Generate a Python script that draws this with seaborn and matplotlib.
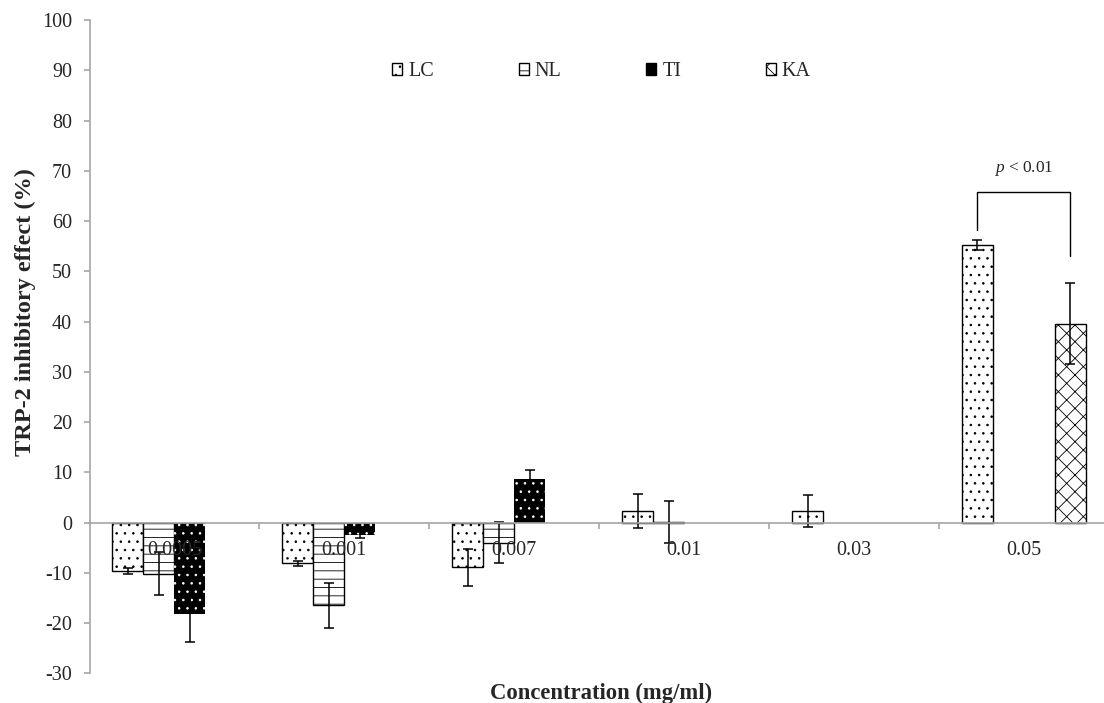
import numpy as np
import pandas as pd
import matplotlib
matplotlib.use("Agg")
import matplotlib.pyplot as plt
import seaborn as sns
from matplotlib.patches import Patch
from matplotlib.ticker import FixedLocator

concentrations = ["0.0005", "0.001", "0.007", "0.01", "0.03", "0.05"]
samples = ["LC", "NL", "TI", "KA"]

lc_mean = [-9.6, -8.1, -8.9, 2.3, 2.3, 55.3]
lc_err = [0.6, 0.5, 3.7, 3.4, 3.1, 1.0]
nl_mean = [-10.2, -16.5, -4.0, 0.1, None, None]
nl_err = [4.3, 4.5, 4.1, 4.1, None, None]
ti_mean = [-18.2, -2.4, 8.6, None, None, None]
ti_err = [5.6, 0.6, 1.8, None, None, None]
ka_mean = [None, None, None, None, None, 39.6]
ka_err = [None, None, None, None, None, 8.0]

y_ticks = list(range(-30, 101, 10))

# significance bracket between LC and KA at 0.05
bracket_top = 65.7
bracket_left_end = 58.3
bracket_right_end = 53.0
p_text_y = 70.5

rows = []
for name, means, errs in [("LC", lc_mean, lc_err), ("NL", nl_mean, nl_err),
                          ("TI", ti_mean, ti_err), ("KA", ka_mean, ka_err)]:
    for c, m, e in zip(concentrations, means, errs):
        if m is not None:
            rows.append({"Concentration": c, "Sample": name, "Effect": m, "Error": e})
df = pd.DataFrame(rows)

sns.set_style("ticks")
plt.rcParams["font.family"] = ["Liberation Serif", "DejaVu Serif"]
plt.rcParams["mathtext.fontset"] = "custom"
plt.rcParams["mathtext.rm"] = "Liberation Serif"
plt.rcParams["mathtext.it"] = "Liberation Serif:italic"
plt.rcParams["axes.unicode_minus"] = False
plt.rcParams["hatch.linewidth"] = 0.6

face = {"LC": "white", "NL": "white", "TI": "black", "KA": "white"}
hatch = {"LC": "..", "NL": "--", "TI": "..", "KA": "xx"}
axis_grey = "#a6a6a6"

fig = plt.figure(figsize=(11.04, 7.03), dpi=100)
ax = fig.add_axes([89.5 / 1104, 1 - 673.3 / 703, 1014.5 / 1104, 653.3 / 703])

group_width = 0.73
sns.barplot(data=df, x="Concentration", y="Effect", hue="Sample",
            order=concentrations, hue_order=samples, palette=face,
            width=group_width, errorbar=None, edgecolor="black",
            linewidth=1.0, saturation=1, legend=False, ax=ax)

bw = group_width / len(samples)
centers = {}
for p in list(ax.patches):
    xc = p.get_x() + p.get_width() / 2
    j = int(round(xc))
    i = int(round((xc - j + group_width / 2 - bw / 2) / bw))
    s = samples[i]
    p.set_hatch(hatch[s])
    if s == "TI":
        p.set_edgecolor("white")
        p.set_linewidth(0)
    row = df[(df.Sample == s) & (df.Concentration == concentrations[j])].iloc[0]
    ax.errorbar(xc, row.Effect, yerr=row.Error, fmt="none", ecolor="black",
                elinewidth=1.1, capsize=3.3, capthick=1.1)
    centers[(s, j)] = xc

x_lc = centers[("LC", 5)]
x_ka = centers[("KA", 5)]
ax.plot([x_lc, x_lc, x_ka, x_ka],
        [bracket_left_end, bracket_top, bracket_top, bracket_right_end],
        color="black", lw=1.0)
ax.text((x_lc + x_ka) / 2, p_text_y, r"$p$ < 0.01", ha="center", va="center",
        fontsize=12.5)

ax.set_axisbelow(False)
sns.despine(ax=ax)
ax.spines["bottom"].set_position(("data", 0))
for side in ["left", "bottom"]:
    ax.spines[side].set_color(axis_grey)
    ax.spines[side].set_linewidth(1.2)

ax.set_ylim(-30, 100)
ax.set_yticks(y_ticks)
ax.set_xlim(-0.5, -0.5 + 1014.5 / 169.9)
ax.tick_params(axis="y", direction="out", length=4.5, width=1.2,
               color=axis_grey, labelsize=14.5, pad=8)
ax.tick_params(axis="x", which="major", length=0, labelsize=14.5, pad=13)
ax.xaxis.set_minor_locator(FixedLocator([0.5, 1.5, 2.5, 3.5, 4.5]))
ax.tick_params(axis="x", which="minor", direction="out", length=4, width=1.2,
               color=axis_grey)

ax.set_ylabel("TRP-2 inhibitory effect (%)", fontsize=17.5, fontweight="bold")
ax.yaxis.set_label_coords(-0.053, 0.553)
ax.set_xlabel("Concentration (mg/ml)", fontsize=16.3, fontweight="bold")
ax.xaxis.set_label_coords(0.504, -0.014)

handles = [Patch(facecolor=face[s], edgecolor="black", hatch=hatch[s], label=s)
           for s in samples]
handles[2] = Patch(facecolor="black", edgecolor="black", label="TI")
ax.legend(handles=handles, loc="center", bbox_to_anchor=(0.5047, 0.921),
          ncol=4, frameon=False, fontsize=14.5, handlelength=0.5,
          handleheight=0.5, handletextpad=0.3, columnspacing=4.2)

fig.savefig("out.png", dpi=100)
